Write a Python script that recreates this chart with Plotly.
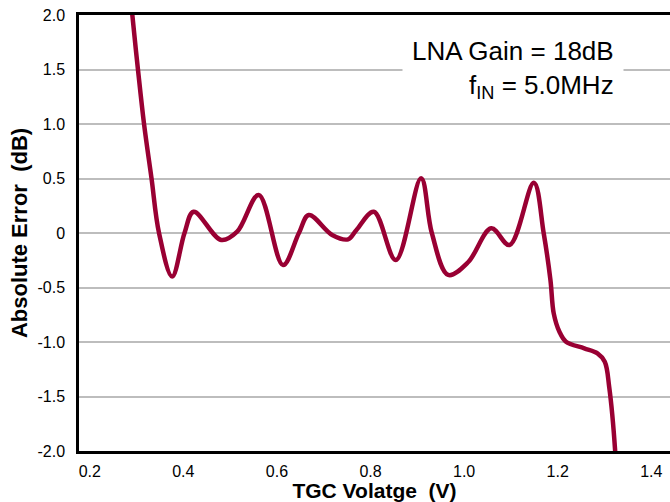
import plotly.graph_objects as go

# TGC voltage (V) and absolute gain error (dB)
tgc_voltage = [
    0.287, 0.291, 0.303, 0.316, 0.332, 0.348, 0.376, 0.4025, 0.422, 0.481,
    0.515, 0.561, 0.613, 0.647, 0.668, 0.718, 0.752, 0.770, 0.807, 0.854,
    0.908, 0.931, 0.966, 1.009, 1.058, 1.097, 1.149, 1.170, 1.1845, 1.1915,
    1.2037, 1.2177, 1.2568, 1.285, 1.3006, 1.310, 1.3228, 1.3245,
]
abs_error = [
    2.20, 2.00, 1.50, 1.00, 0.50, 0.00, -0.40, 0.00, 0.195, -0.064,
    0.012, 0.349, -0.294, 0.00, 0.165, -0.018, -0.058, 0.028, 0.195, -0.248,
    0.502, 0.00, -0.385, -0.266, 0.043, -0.110, 0.461, 0.00, -0.431, -0.737,
    -0.906, -0.997, -1.058, -1.104, -1.181, -1.410, -2.00, -2.17,
]

x_ticks = [0.2, 0.4, 0.6, 0.8, 1.0, 1.2, 1.4]
y_ticks = [2.0, 1.5, 1.0, 0.5, 0, -0.5, -1.0, -1.5, -2.0]
y_tick_text = ["2.0", "1.5", "1.0", "0.5", "0", "-0.5", "-1.0", "-1.5", "-2.0"]

font_family = "Arial, Liberation Sans, sans-serif"

fig = go.Figure()
fig.add_trace(
    go.Scatter(
        x=tgc_voltage,
        y=abs_error,
        mode="lines",
        line=dict(color="#990033", width=4.5, shape="spline", smoothing=1),
        showlegend=False,
        hoverinfo="skip",
    )
)

fig.add_annotation(
    xref="paper", yref="paper",
    x=0.922, y=0.874,
    xanchor="right", yanchor="middle",
    text="LNA Gain = 18dB<br>f<sub>IN</sub> = 5.0MHz",
    align="right",
    showarrow=False,
    bgcolor="white",
    borderpad=9,
    font=dict(family=font_family, size=26, color="black"),
)

fig.update_layout(
    width=670,
    height=502,
    plot_bgcolor="white",
    paper_bgcolor="white",
    font=dict(family=font_family, color="black"),
    margin=dict(l=79, r=0, t=15, b=51, autoexpand=False),
)

fig.update_xaxes(
    automargin=False,
    range=[0.177, 1.440],
    tickvals=x_ticks,
    tickformat=".1f",
    tickfont=dict(size=16, color="black"),
    ticklabelstandoff=4,
    showgrid=False,
    zeroline=False,
    showline=True,
    linecolor="black",
    linewidth=2.5,
    mirror=True,
    title=dict(text="<b>TGC Volatge  (V)</b>", font=dict(size=21), standoff=4),
)
fig.update_yaxes(
    automargin=False,
    range=[-2.0, 2.0],
    tickvals=y_ticks,
    ticktext=y_tick_text,
    tickfont=dict(size=16, color="black"),
    ticklabelstandoff=8,
    showgrid=True,
    gridcolor="#bdbdbd",
    gridwidth=1.5,
    zeroline=False,
    showline=True,
    linecolor="black",
    linewidth=2.5,
    title=dict(text="<b>Absolute Error  (dB)</b>", font=dict(size=22), standoff=4),
)

# the page body has a default 8px margin; drop it so the chart sits at 0,0
fig.write_html(
    "out.html",
    config={"displayModeBar": False},
    post_script="document.body.style.margin='0';",
)
